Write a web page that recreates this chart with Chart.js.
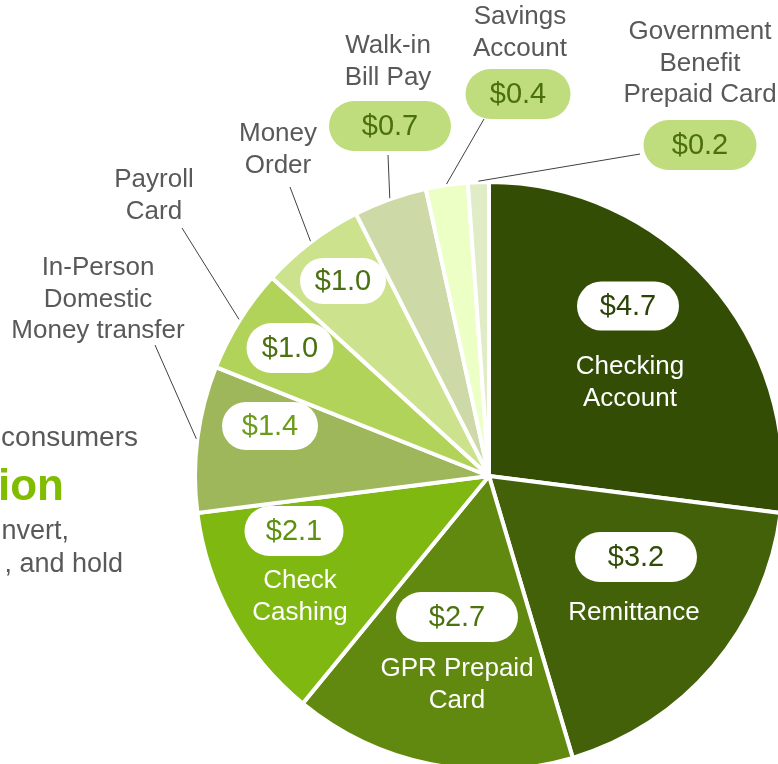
<!DOCTYPE html>
<html><head><meta charset="utf-8">
<script src="https://cdn.jsdelivr.net/npm/chart.js@4/dist/chart.umd.min.js"></script>
<style>
html,body{margin:0;padding:0;background:#fff;overflow:hidden;}
#wrap{position:relative;width:778px;height:764px;overflow:hidden;background:#fff;}
#c{position:absolute;left:0;top:0;}
</style></head><body>
<div id="wrap"><canvas id="c" width="800" height="800"></canvas></div>
<script>
// ---- data ----
const categories = [
  ["Checking","Account"],
  ["Remittance"],
  ["GPR Prepaid","Card"],
  ["Check","Cashing"],
  ["In-Person","Domestic","Money transfer"],
  ["Payroll","Card"],
  ["Money","Order"],
  ["Walk-in","Bill Pay"],
  ["Savings","Account"],
  ["Government","Benefit","Prepaid Card"]
];
const values = [4.7, 3.2, 2.7, 2.1, 1.4, 1.0, 1.0, 0.7, 0.4, 0.2];
const sideTexts = ["consumers", "ion", "nvert,", ", and hold"];

// ---- styles ----
const sliceColors = ["#334d05","#426109","#62890f","#80b812","#9db75a","#b1d35a","#cce28c","#cdd9a7","#ecffc4","#e0ecc6"];
const pillTextColors = ["#2b4306","#304a08","#4c7310","#5e900f","#6a9c19","#4a7010","#4a7010","#4a6e10","#4a6e10","#4a6e10"];
const FONT = '"Liberation Sans", Arial, sans-serif';

// label layout, offsets relative to pie centre
const layout = [
  {pill:[139,-170,102,49], text:[141,-109], inner:true},
  {pill:[147,81,122,50],   text:[145,137],  inner:true},
  {pill:[-32,141,122,50],  text:[-32,193],  inner:true},
  {pill:[-195,55,99,50],   text:[-189,105], inner:true},
  {pill:[-219,-50,96,48],  text:[-391,-208], line:[-334,-131]},
  {pill:[-199,-128,87,50], text:[-335,-296], line:[-307,-248]},
  {pill:[-146,-195,86,46], text:[-211,-342], line:[-199,-289]},
  {pill:[-99,-350,122,50], text:[-101,-430], line:[-101,-321], outerPill:true},
  {pill:[29,-382,105,50],  text:[31,-459],   line:[-5,-357],   outerPill:true},
  {pill:[211,-331,113,50], text:[211,-444],  line:[151,-322],  outerPill:true}
];

function pill(ctx, x, y, w, h, fill) {
  const r = h / 2;
  ctx.beginPath();
  ctx.moveTo(x - w/2 + r, y - h/2);
  ctx.lineTo(x + w/2 - r, y - h/2);
  ctx.arc(x + w/2 - r, y, r, -Math.PI/2, Math.PI/2);
  ctx.lineTo(x - w/2 + r, y + h/2);
  ctx.arc(x - w/2 + r, y, r, Math.PI/2, Math.PI*1.5);
  ctx.closePath();
  ctx.fillStyle = fill;
  ctx.fill();
}

const labelPlugin = {
  id: 'labels',
  afterDatasetsDraw(chart) {
    const ctx = chart.ctx;
    const meta = chart.getDatasetMeta(0);
    ctx.save();
    meta.data.forEach((arc, i) => {
      const L = layout[i];
      const cx = arc.x, cy = arc.y;
      if (L.line) {
        const mid = (arc.startAngle + arc.endAngle) / 2;
        const r = arc.outerRadius + 1;
        ctx.beginPath();
        ctx.moveTo(cx + L.line[0], cy + L.line[1]);
        ctx.lineTo(cx + Math.cos(mid) * r, cy + Math.sin(mid) * r);
        ctx.strokeStyle = "#404040";
        ctx.lineWidth = 1;
        ctx.stroke();
      }
      const [px, py, pw, ph] = L.pill;
      pill(ctx, cx + px, cy + py, pw, ph, L.outerPill ? "#c0dd7e" : "#ffffff");
      ctx.fillStyle = pillTextColors[i];
      ctx.font = "29px " + FONT;
      ctx.textAlign = "center";
      ctx.textBaseline = "middle";
      ctx.fillText("$" + values[i].toFixed(1), cx + px, cy + py + 1);
      ctx.font = "26px " + FONT;
      ctx.fillStyle = L.inner ? "#ffffff" : "#595959";
      const lines = chart.data.labels[i];
      lines.forEach((t, k) => ctx.fillText(t, cx + L.text[0], cy + L.text[1] + k * 31.5));
    });
    // cropped side text on the left
    ctx.textAlign = "right";
    ctx.textBaseline = "alphabetic";
    ctx.fillStyle = "#595959";
    ctx.font = "28px " + FONT;
    ctx.fillText(sideTexts[0], 138, 446);
    ctx.fillStyle = "#80bc00";
    ctx.font = "bold 44px " + FONT;
    ctx.fillText(sideTexts[1], 64, 500);
    ctx.fillStyle = "#595959";
    ctx.font = "27px " + FONT;
    ctx.fillText(sideTexts[2], 69, 539);
    ctx.fillText(sideTexts[3], 123, 572);
    ctx.restore();
  }
};

new Chart(document.getElementById('c'), {
  type: 'pie',
  data: {
    labels: categories,
    datasets: [{
      data: values,
      backgroundColor: sliceColors,
      borderColor: "#ffffff",
      borderWidth: 4
    }]
  },
  options: {
    responsive: false,
    animation: false,
    layout: {padding: {left: 193, top: 180, right: 15, bottom: 28}},
    plugins: {legend: {display: false}, tooltip: {enabled: false}}
  },
  plugins: [labelPlugin]
});
</script>
</body></html>
